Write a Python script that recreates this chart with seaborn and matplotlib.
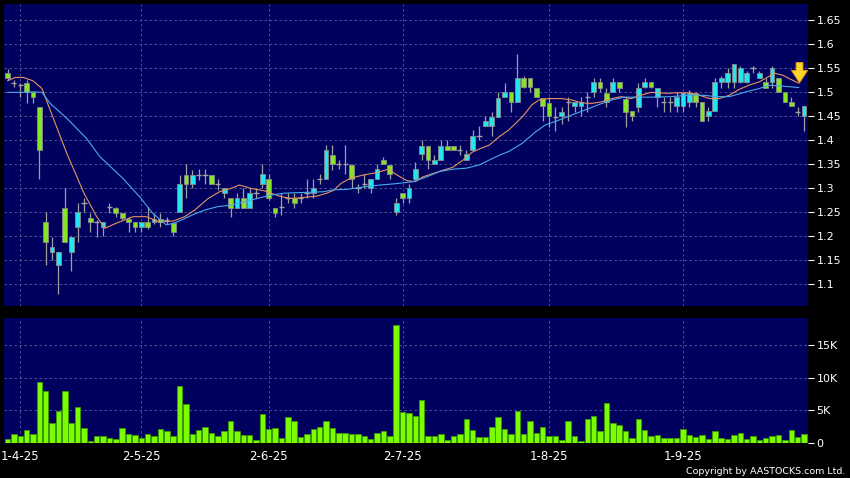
import numpy as np
import pandas as pd
import seaborn as sns
import matplotlib.pyplot as plt

# daily bars, 28-3-25 .. 29-9-25
opens = [1.540, 1.520, 1.515, 1.520, 1.500, 1.470, 1.229, 1.168, 1.140, 1.260,
         1.168, 1.220, 1.269, 1.239, 1.229, 1.219, 1.262, 1.260, 1.249, 1.237,
         1.229, 1.219, 1.229, 1.229, 1.237, 1.234, 1.228, 1.250, 1.328, 1.310,
         1.328, 1.328, 1.328, 1.310, 1.290, 1.279, 1.260, 1.279, 1.260, 1.290,
         1.310, 1.320, 1.260, 1.262, 1.279, 1.279, 1.279, 1.290, 1.290, 1.320,
         1.319, 1.370, 1.350, 1.350, 1.349, 1.300, 1.310, 1.300, 1.319, 1.360,
         1.349, 1.250, 1.290, 1.280, 1.320, 1.371, 1.389, 1.350, 1.360, 1.389,
         1.389, 1.380, 1.360, 1.380, 1.410, 1.430, 1.430, 1.449, 1.490, 1.500,
         1.479, 1.529, 1.529, 1.510, 1.489, 1.478, 1.449, 1.451, 1.479, 1.471,
         1.471, 1.490, 1.500, 1.521, 1.499, 1.500, 1.521, 1.487, 1.461, 1.470,
         1.512, 1.521, 1.491, 1.480, 1.479, 1.471, 1.471, 1.479, 1.499, 1.479,
         1.451, 1.461, 1.521, 1.521, 1.521, 1.521, 1.521, 1.550, 1.529, 1.521,
         1.521, 1.529, 1.500, 1.479, 1.460, 1.451]
highs = [1.548, 1.526, 1.520, 1.526, 1.500, 1.470, 1.250, 1.199, 1.168, 1.300,
         1.200, 1.270, 1.279, 1.249, 1.235, 1.229, 1.269, 1.262, 1.249, 1.240,
         1.229, 1.229, 1.262, 1.249, 1.249, 1.240, 1.230, 1.328, 1.350, 1.338,
         1.340, 1.340, 1.328, 1.320, 1.300, 1.279, 1.290, 1.300, 1.300, 1.300,
         1.350, 1.330, 1.260, 1.290, 1.290, 1.290, 1.290, 1.320, 1.320, 1.330,
         1.390, 1.390, 1.360, 1.390, 1.350, 1.310, 1.330, 1.320, 1.350, 1.365,
         1.349, 1.280, 1.290, 1.310, 1.355, 1.400, 1.389, 1.370, 1.400, 1.400,
         1.389, 1.390, 1.380, 1.421, 1.430, 1.450, 1.460, 1.500, 1.520, 1.500,
         1.580, 1.535, 1.529, 1.510, 1.489, 1.490, 1.470, 1.470, 1.490, 1.480,
         1.490, 1.500, 1.530, 1.530, 1.510, 1.530, 1.521, 1.490, 1.461, 1.520,
         1.530, 1.521, 1.510, 1.490, 1.490, 1.500, 1.500, 1.505, 1.500, 1.479,
         1.470, 1.530, 1.535, 1.550, 1.560, 1.555, 1.545, 1.555, 1.545, 1.530,
         1.555, 1.529, 1.500, 1.490, 1.470, 1.471]
lows = [1.525, 1.512, 1.490, 1.478, 1.478, 1.320, 1.140, 1.151, 1.080, 1.189,
        1.128, 1.189, 1.251, 1.210, 1.199, 1.200, 1.249, 1.241, 1.235, 1.210,
        1.210, 1.210, 1.215, 1.225, 1.220, 1.225, 1.200, 1.250, 1.279, 1.300,
        1.318, 1.310, 1.310, 1.297, 1.279, 1.240, 1.260, 1.260, 1.260, 1.279,
        1.300, 1.276, 1.240, 1.245, 1.270, 1.260, 1.270, 1.279, 1.279, 1.310,
        1.319, 1.338, 1.340, 1.330, 1.300, 1.290, 1.300, 1.290, 1.319, 1.350,
        1.320, 1.245, 1.270, 1.270, 1.315, 1.360, 1.340, 1.350, 1.360, 1.380,
        1.380, 1.370, 1.360, 1.380, 1.400, 1.430, 1.410, 1.449, 1.490, 1.460,
        1.479, 1.510, 1.500, 1.490, 1.440, 1.428, 1.420, 1.435, 1.440, 1.460,
        1.450, 1.460, 1.490, 1.500, 1.470, 1.500, 1.500, 1.428, 1.440, 1.460,
        1.510, 1.510, 1.470, 1.460, 1.460, 1.460, 1.460, 1.470, 1.470, 1.440,
        1.440, 1.461, 1.510, 1.510, 1.510, 1.520, 1.520, 1.540, 1.529, 1.510,
        1.510, 1.500, 1.479, 1.471, 1.450, 1.420]
closes = [1.529, 1.520, 1.515, 1.500, 1.490, 1.380, 1.189, 1.178, 1.168, 1.189,
          1.199, 1.250, 1.269, 1.229, 1.229, 1.229, 1.262, 1.249, 1.239, 1.229,
          1.219, 1.229, 1.219, 1.237, 1.229, 1.234, 1.210, 1.310, 1.310, 1.328,
          1.328, 1.328, 1.310, 1.310, 1.300, 1.260, 1.279, 1.260, 1.290, 1.290,
          1.329, 1.280, 1.249, 1.262, 1.279, 1.270, 1.279, 1.290, 1.300, 1.320,
          1.380, 1.350, 1.350, 1.350, 1.319, 1.300, 1.310, 1.319, 1.340, 1.350,
          1.330, 1.269, 1.280, 1.300, 1.340, 1.389, 1.360, 1.360, 1.389, 1.380,
          1.380, 1.380, 1.371, 1.409, 1.410, 1.441, 1.449, 1.489, 1.500, 1.479,
          1.529, 1.512, 1.512, 1.490, 1.471, 1.450, 1.449, 1.460, 1.479, 1.479,
          1.479, 1.490, 1.521, 1.510, 1.479, 1.521, 1.510, 1.460, 1.451, 1.510,
          1.521, 1.512, 1.510, 1.480, 1.479, 1.490, 1.499, 1.499, 1.479, 1.440,
          1.461, 1.521, 1.529, 1.540, 1.560, 1.550, 1.540, 1.550, 1.540, 1.510,
          1.550, 1.500, 1.479, 1.471, 1.460, 1.471]
# volume in thousands
volumes = [0.6, 1.3, 1.1, 2.0, 1.4, 9.3, 7.9, 3.1, 4.9, 8.0,
           3.1, 5.5, 2.3, 0.3, 1.0, 1.0, 0.8, 0.6, 2.3, 1.4,
           1.2, 0.7, 1.4, 1.0, 2.2, 1.8, 1.1, 8.7, 6.0, 1.4,
           2.0, 2.4, 1.5, 1.1, 1.9, 3.3, 1.8, 1.2, 1.2, 0.4,
           4.4, 2.2, 2.3, 0.8, 4.0, 3.4, 0.9, 1.4, 2.1, 2.4,
           3.4, 2.3, 1.6, 1.5, 1.3, 1.3, 1.0, 0.6, 1.6, 1.8,
           1.0, 18.1, 4.7, 4.6, 4.2, 6.5, 1.1, 1.1, 1.4, 0.5,
           1.0, 1.4, 3.6, 2.0, 0.9, 0.9, 2.4, 4.0, 2.1, 1.4,
           4.9, 1.4, 3.3, 1.5, 2.4, 1.1, 1.1, 0.4, 3.3, 1.0,
           0.3, 3.7, 4.2, 1.9, 6.1, 3.0, 2.7, 1.8, 0.8, 3.7,
           2.0, 1.0, 1.2, 0.7, 0.7, 0.8, 2.2, 1.2, 0.9, 1.2,
           0.6, 1.8, 0.8, 0.6, 1.2, 1.5, 0.6, 1.0, 0.4, 0.8,
           1.1, 1.2, 0.5, 2.0, 0.9, 1.3]

# moving average lines, read at points along the curves
ma_fast_x = [0, 1.2, 2.5, 4, 5.4, 6.7, 9.3, 12, 14, 15.3, 17, 19.7, 21.8, 23.8, 26, 27.8,
             29.4, 31.5, 33.3, 35.1, 36.4, 38.2, 40.3, 41.3, 42.9, 44.4, 46.5, 48.6, 50.1,
             51.2, 52.3, 53.8, 55.9, 58, 59.8, 61.1, 62.7, 64, 65.2, 66.8, 68.4, 69.9, 71.5,
             73, 74.6, 75.6, 77.2, 78.7, 80.8, 82.3, 83.4, 84.9, 87, 88.6, 90.1, 91.7, 93.2,
             94.8, 96.3, 97.9, 99.4, 101, 103.5, 105, 107.1, 108.6, 110.2, 111.7, 113.3,
             114.8, 116.4, 118, 119.5, 120.3, 121.6, 123.1, 124.2]
ma_fast_y = [1.524, 1.531, 1.531, 1.524, 1.508, 1.463, 1.373, 1.29, 1.241, 1.217, 1.227,
             1.241, 1.241, 1.23, 1.232, 1.241, 1.255, 1.279, 1.293, 1.30, 1.307, 1.30, 1.295,
             1.29, 1.283, 1.279, 1.281, 1.284, 1.29, 1.296, 1.31, 1.321, 1.328, 1.333, 1.34,
             1.328, 1.316, 1.314, 1.324, 1.331, 1.338, 1.344, 1.359, 1.376, 1.385, 1.39,
             1.408, 1.422, 1.449, 1.474, 1.484, 1.487, 1.487, 1.484, 1.478, 1.477, 1.48,
             1.487, 1.491, 1.487, 1.494, 1.50, 1.498, 1.499, 1.499, 1.494, 1.487, 1.487,
             1.494, 1.506, 1.515, 1.522, 1.533, 1.54, 1.536, 1.526, 1.519]
ma_slow_x = [0, 2.5, 4, 5.4, 6.7, 9.3, 12.4, 14.5, 18.1, 20.7, 22.8, 24.9, 26, 27.3, 28.9,
             31, 33, 35.1, 37.2, 39.2, 41.3, 43.4, 45.5, 47.5, 49.6, 51.2, 53.3, 55.9, 58.5,
             61.1, 63.7, 65.8, 67.8, 69.9, 72, 74.1, 75.6, 77.2, 78.7, 80.8, 82.9, 84.4, 86.5,
             88.6, 90.6, 92.7, 94.8, 96.8, 98.9, 101, 104, 107.1, 109.2, 111.2, 113.3, 115.9,
             118, 119.5, 121.6, 124.2]
ma_slow_y = [1.50, 1.50, 1.501, 1.50, 1.477, 1.446, 1.404, 1.366, 1.321, 1.283, 1.248, 1.224,
             1.227, 1.234, 1.244, 1.255, 1.262, 1.265, 1.272, 1.279, 1.286, 1.29, 1.291, 1.292,
             1.293, 1.297, 1.298, 1.303, 1.307, 1.31, 1.314, 1.324, 1.335, 1.34, 1.342, 1.349,
             1.359, 1.369, 1.377, 1.394, 1.418, 1.432, 1.442, 1.453, 1.463, 1.474, 1.484, 1.49,
             1.49, 1.49, 1.491, 1.494, 1.494, 1.491, 1.491, 1.501, 1.508, 1.515, 1.513, 1.51]

date_ticks = [2, 21, 41, 62, 85, 106]
date_labels = ["1-4-25", "2-5-25", "2-6-25", "2-7-25", "1-8-25", "1-9-25"]
price_ticks = [1.1, 1.15, 1.2, 1.25, 1.3, 1.35, 1.4, 1.45, 1.5, 1.55, 1.6, 1.65]
price_labels = ["1.1", "1.15", "1.2", "1.25", "1.3", "1.35", "1.4", "1.45", "1.5", "1.55", "1.6", "1.65"]
vol_ticks = [0, 5, 10, 15]
vol_labels = ["0", "5K", "10K", "15K"]

df = pd.DataFrame({"open": opens, "high": highs, "low": lows, "close": closes, "vol": volumes})
df["idx"] = np.arange(len(df))

sns.set_style("dark")
plt.rcParams["font.family"] = ["DejaVu Sans"]

bg = "#00005e"
grid_c = "#5b5b95"
cyan = "#22e6f0"
lime = "#86e626"
wick_c = "#a0a0a0"

fig = plt.figure(figsize=(8.5, 4.78), dpi=100, facecolor="black")
ax = fig.add_axes([4 / 850, 1 - 306 / 478, 804 / 850, 302 / 478])
axv = fig.add_axes([4 / 850, 1 - 443 / 478, 804 / 850, 125 / 478])

xlim = (-0.55, len(df) - 1 + 0.63)

# candles
up = df[df.close > df.open]
down = df[df.close < df.open]
doji = df[df.close == df.open]
ax.vlines(df.idx, df.low, df.high, color=wick_c, lw=0.9, zorder=2)
ax.bar(up.idx, up.close - up.open, bottom=up.open, width=0.74, color=cyan,
       edgecolor="#8a8a8a", linewidth=0.6, zorder=3)
ax.bar(down.idx, down.open - down.close, bottom=down.close, width=0.74, color=lime,
       edgecolor="#8a8a8a", linewidth=0.6, zorder=3)
ax.hlines(doji.close, doji.idx - 0.4, doji.idx + 0.4, color=wick_c, lw=1.0, zorder=3)

sns.lineplot(x=ma_fast_x, y=ma_fast_y, ax=ax, color="#e6945e", lw=0.8, zorder=4)
sns.lineplot(x=ma_slow_x, y=ma_slow_y, ax=ax, color="#4aaaea", lw=0.8, zorder=4)

ax.annotate("", xy=(124.3, 1.514), xytext=(124.3, 1.568),
            arrowprops=dict(arrowstyle="simple,head_width=1.3,head_length=1.0,tail_width=0.55",
                            mutation_scale=9, fc="#ffd42a", ec="#d99a12", lw=0.6),
            zorder=6)

ax.set_facecolor(bg)
ax.set_xlim(*xlim)
ax.set_ylim(1.055, 1.684)
ax.set_yticks(price_ticks)
ax.set_yticklabels(price_labels)
ax.set_xticks(date_ticks)
ax.tick_params(axis="x", labelbottom=False, length=0)
ax.yaxis.tick_right()
ax.tick_params(axis="y", colors="white", direction="out", length=4, width=0.8,
               labelsize=8, pad=2)
for t in ax.get_yticklines():
    t.set_color("#b0b0b0")
ax.grid(True, color=grid_c, linestyle=(0, (3, 3)), lw=0.6)
ax.set_axisbelow(True)
for s in ax.spines.values():
    s.set_visible(False)

# volume
sns.barplot(x=df.idx, y=df.vol, ax=axv, native_scale=True, color="#7cfc00",
            edgecolor="#3a9a00", linewidth=0.6, width=0.86, saturation=1,
            errorbar=None, zorder=3)
axv.set_facecolor(bg)
axv.set_xlim(*xlim)
axv.set_ylim(0, 19.1)
axv.set_yticks(vol_ticks)
axv.set_yticklabels(vol_labels)
axv.set_xticks(date_ticks)
axv.set_xticklabels(date_labels)
axv.set_xlabel("")
axv.set_ylabel("")
axv.yaxis.tick_right()
axv.tick_params(axis="y", colors="white", direction="out", length=4, width=0.8,
                labelsize=8, pad=2)
axv.tick_params(axis="x", colors="white", direction="out", length=3, width=0.8,
                labelsize=8.5, pad=2)
for t in axv.get_yticklines() + axv.get_xticklines():
    t.set_color("#b0b0b0")
axv.grid(True, color=grid_c, linestyle=(0, (3, 3)), lw=0.6)
axv.set_axisbelow(True)
for s in axv.spines.values():
    s.set_visible(False)

fig.text(845 / 850, 1 - 471 / 478, "Copyright by AASTOCKS.com Ltd.", ha="right",
         va="center", fontsize=6.8, color="white")

fig.savefig("out.png", dpi=100, facecolor="black")
